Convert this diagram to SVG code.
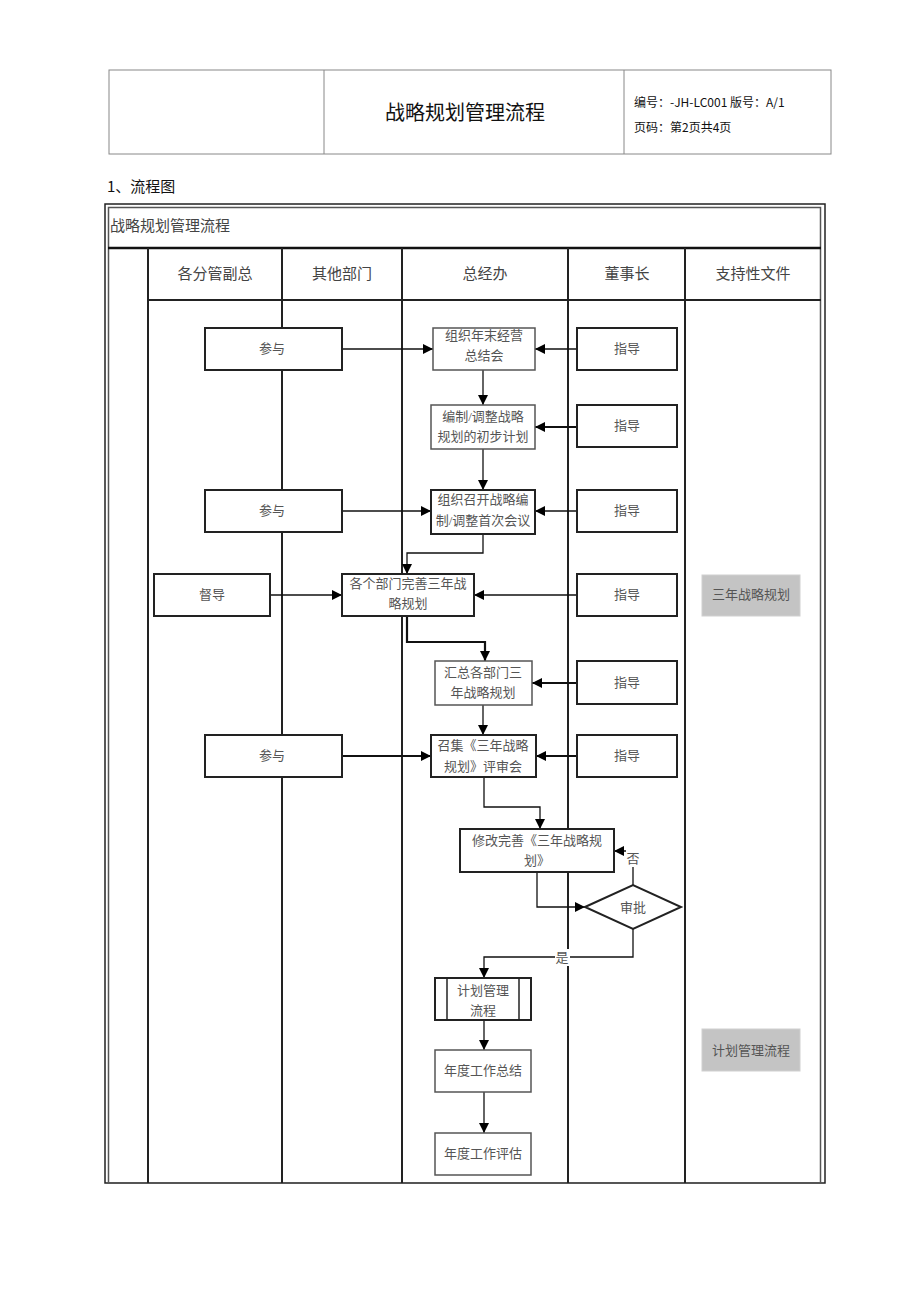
<svg xmlns="http://www.w3.org/2000/svg" width="920" height="1303" viewBox="0 0 920 1303">
<defs>
<marker id="ah" viewBox="0 0 10 10" refX="10" refY="5" markerWidth="10" markerHeight="10" markerUnits="userSpaceOnUse" orient="auto">
<path d="M0,0 L10,5 L0,10 z" fill="#000"/>
</marker>
</defs>
<style>
.hd{font-family:"Noto Sans CJK SC",sans-serif;fill:#111}
.t{font-family:"Liberation Serif","Noto Sans CJK SC",serif;font-size:13px;fill:#555;text-anchor:middle}
.lh{font-family:"Liberation Serif","Noto Sans CJK SC",serif;font-size:15px;fill:#444;text-anchor:middle}
.box{fill:#fff;stroke:#222;stroke-width:2}
.lbox{fill:#fff;stroke:#555;stroke-width:1.5}
.gray{fill:#c4c4c4;stroke:#d0d0d0;stroke-width:1}
.lane{stroke:#222;stroke-width:2;fill:none}
.c{stroke:#111;stroke-width:1.3;fill:none;marker-end:url(#ah)}
.ct{stroke:#111;stroke-width:2.2;fill:none;marker-end:url(#ah)}
</style>
<rect width="920" height="1303" fill="#fff"/>
<g id="header">
<rect x="109" y="70" width="722" height="84" fill="none" stroke="#888" stroke-width="1"/>
<line x1="324" y1="70" x2="324" y2="154" stroke="#888" stroke-width="1"/>
<line x1="624" y1="70" x2="624" y2="154" stroke="#888" stroke-width="1"/>
<text class="hd" x="465" y="120" font-size="20" text-anchor="middle">战略规划管理流程</text>
<text class="hd" x="634" y="107" font-size="12">编号：-JH-LC001 版号：A/1</text>
<text class="hd" x="634" y="132" font-size="12">页码：第2页共4页</text>
<text class="hd" x="107" y="192" font-size="15">1、流程图</text>
</g>
<g id="frame">
<rect x="105" y="204" width="720" height="979" fill="none" stroke="#222" stroke-width="1.5"/>
<rect x="108.5" y="207.5" width="712" height="975.5" fill="none" stroke="#555" stroke-width="1.5"/>
<line x1="108" y1="248" x2="821" y2="248" stroke="#111" stroke-width="2.5"/>
<line x1="148" y1="300" x2="821" y2="300" stroke="#222" stroke-width="2"/>
<text x="110" y="231" font-family="Liberation Serif,Noto Sans CJK SC,serif" font-size="15" fill="#444">战略规划管理流程</text>
<line class="lane" x1="148" y1="248" x2="148" y2="1183"/>
<line class="lane" x1="282" y1="248" x2="282" y2="1183"/>
<line class="lane" x1="402" y1="248" x2="402" y2="1183"/>
<line class="lane" x1="568" y1="248" x2="568" y2="1183"/>
<line class="lane" x1="685" y1="248" x2="685" y2="1183"/>
<text class="lh" x="215" y="279">各分管副总</text>
<text class="lh" x="342" y="279">其他部门</text>
<text class="lh" x="485" y="279">总经办</text>
<text class="lh" x="627" y="279">董事长</text>
<text class="lh" x="753" y="279">支持性文件</text>
</g>
<g id="connectors">
<line class="c" x1="342" y1="349" x2="433" y2="349"/>
<line class="c" x1="577" y1="349" x2="535" y2="349"/>
<line class="c" x1="483" y1="370" x2="483" y2="405"/>
<line class="ct" x1="577" y1="427" x2="535" y2="427"/>
<line class="c" x1="483" y1="449" x2="483" y2="490"/>
<line class="c" x1="342" y1="511" x2="431" y2="511"/>
<line class="c" x1="577" y1="511" x2="535" y2="511"/>
<polyline class="c" points="483,534 483,553 407,553 407,574"/>
<line class="c" x1="270" y1="595" x2="342" y2="595"/>
<line class="c" x1="577" y1="595" x2="474" y2="595"/>
<polyline class="ct" points="407,616 407,642 485,642 485,661"/>
<line class="ct" x1="577" y1="683" x2="532" y2="683"/>
<line class="c" x1="483" y1="705" x2="483" y2="735"/>
<line class="ct" x1="342" y1="756" x2="431" y2="756"/>
<line class="ct" x1="577" y1="756" x2="536" y2="756"/>
<polyline class="c" points="484,777 484,807 540,807 540,829"/>
<polyline class="c" points="537,872 537,907 585,907"/>
<polyline class="c" points="633,885 633,851 614,851"/>
<polyline class="c" points="633,929 633,957 484,957 484,978"/>
<line class="c" x1="484" y1="1020" x2="484" y2="1050"/>
<line class="c" x1="484" y1="1092" x2="484" y2="1133"/>
<rect x="626" y="850" width="15" height="17" fill="#fff"/>
<text class="t" x="633" y="863">否</text>
<rect x="555" y="949" width="15" height="17" fill="#fff"/>
<text class="t" x="562" y="962">是</text>
</g>
<g id="n1"><rect class="box" x="205" y="328" width="137" height="42"/><text class="t" x="272" y="353">参与</text></g>
<g id="n2"><rect class="lbox" x="433" y="328" width="102" height="42"/><text class="t" x="484" y="340">组织年末经营</text><text class="t" x="484" y="360">总结会</text></g>
<g id="n3"><rect class="box" x="577" y="328" width="100" height="42"/><text class="t" x="627" y="353">指导</text></g>
<g id="n4"><rect class="lbox" x="431" y="405" width="104" height="44"/><text class="t" x="483" y="421">编制/调整战略</text><text class="t" x="483" y="441">规划的初步计划</text></g>
<g id="n5"><rect class="box" x="577" y="405" width="100" height="42"/><text class="t" x="627" y="430">指导</text></g>
<g id="n6"><rect class="box" x="205" y="490" width="137" height="42"/><text class="t" x="272" y="515">参与</text></g>
<g id="n7"><rect class="box" x="431" y="490" width="104" height="44"/><text class="t" x="483" y="504">组织召开战略编</text><text class="t" x="483" y="525">制/调整首次会议</text></g>
<g id="n8"><rect class="box" x="577" y="490" width="100" height="42"/><text class="t" x="627" y="515">指导</text></g>
<g id="n9"><rect class="box" x="154" y="574" width="116" height="42"/><text class="t" x="212" y="599">督导</text></g>
<g id="n10"><rect class="box" x="342" y="574" width="132" height="42"/><text class="t" x="408" y="588">各个部门完善三年战</text><text class="t" x="408" y="608">略规划</text></g>
<g id="n11"><rect class="box" x="577" y="574" width="100" height="42"/><text class="t" x="627" y="599">指导</text></g>
<g id="n12"><rect class="gray" x="702" y="575" width="98" height="41"/><text class="t" x="751" y="599">三年战略规划</text></g>
<g id="n13"><rect class="lbox" x="435" y="661" width="97" height="44"/><text class="t" x="483" y="677">汇总各部门三</text><text class="t" x="483" y="697">年战略规划</text></g>
<g id="n14"><rect class="box" x="577" y="661" width="100" height="43"/><text class="t" x="627" y="687">指导</text></g>
<g id="n15"><rect class="box" x="205" y="735" width="137" height="42"/><text class="t" x="272" y="760">参与</text></g>
<g id="n16"><rect class="box" x="431" y="735" width="105" height="42"/><text class="t" x="483" y="750">召集《三年战略</text><text class="t" x="483" y="771">规划》评审会</text></g>
<g id="n17"><rect class="box" x="577" y="735" width="100" height="42"/><text class="t" x="627" y="760">指导</text></g>
<g id="n18"><rect class="box" x="460" y="829" width="154" height="43"/><text class="t" x="537" y="845">修改完善《三年战略规</text><text class="t" x="537" y="865">划》</text></g>
<g id="n19"><polygon points="585,907 633,885 681,907 633,929" fill="#fff" stroke="#222" stroke-width="2"/><text class="t" x="633" y="912">审批</text></g>
<g id="n20"><rect class="box" x="435" y="978" width="96" height="42"/><line x1="447" y1="978" x2="447" y2="1020" stroke="#222" stroke-width="1.5"/><line x1="519" y1="978" x2="519" y2="1020" stroke="#222" stroke-width="1.5"/><text class="t" x="483" y="995">计划管理</text><text class="t" x="483" y="1015">流程</text></g>
<g id="n21"><rect class="lbox" x="435" y="1050" width="96" height="42"/><text class="t" x="483" y="1075">年度工作总结</text></g>
<g id="n22"><rect class="lbox" x="435" y="1133" width="96" height="42"/><text class="t" x="483" y="1158">年度工作评估</text></g>
<g id="n23"><rect class="gray" x="702" y="1029" width="98" height="42"/><text class="t" x="751" y="1055">计划管理流程</text></g>
</svg>
